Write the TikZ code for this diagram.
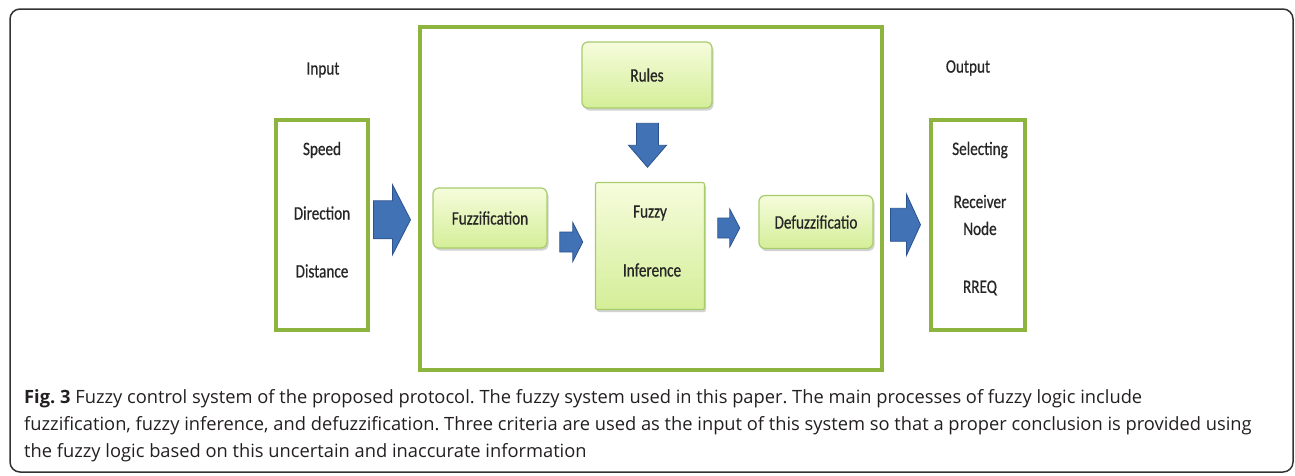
\documentclass[tikz,border=0pt]{standalone}
\usepackage{fontspec}
\setmainfont{Open Sans}
\newfontfamily\diafont[FakeStretch=0.8, FakeBold=0.6]{Carlito}
\newfontfamily\capfont{Open Sans}
\usetikzlibrary{positioning,shadows,calc}

\definecolor{framegreen}{RGB}{140,180,62}
\definecolor{boxedge}{RGB}{168,204,108}
\definecolor{boxtop}{RGB}{246,252,220}
\definecolor{boxbottom}{RGB}{212,238,152}
\definecolor{arrowblue}{RGB}{66,114,182}
\definecolor{arrowedge}{RGB}{42,82,142}
\definecolor{captext}{RGB}{35,31,32}

\newcommand{\drawPfeil}[6]{% center, angle, length, shaft, head width, head length
    \begin{scope}[shift={(#1)}, rotate=#2]
        \draw[blockarrow] (-#3/2,-#4/2) -- (#3/2-#6,-#4/2) -- (#3/2-#6,-#5/2) -- (#3/2,0)
            -- (#3/2-#6,#5/2) -- (#3/2-#6,#4/2) -- (-#3/2,#4/2) -- cycle;
    \end{scope}
}

\tikzset{
    greenframe/.style={draw=framegreen, line width=3.5pt, fill=white},
    procbox/.style={draw=boxedge, line width=1.2pt, rounded corners=6pt,
        top color=boxtop, bottom color=boxbottom,
        drop shadow={opacity=0.35, shadow xshift=1.5pt, shadow yshift=-2.5pt}},
    blockarrow/.style={fill=arrowblue, draw=arrowedge, line width=0.8pt, line join=miter},
    lbl/.style={font=\diafont\fontsize{19}{21}\selectfont, text=black!85, align=center},
    caption/.style={anchor=base west, font=\capfont\fontsize{18.3}{21}\selectfont\frenchspacing, text=captext, inner sep=0pt}
}

\begin{document}
\begin{tikzpicture}[x=1pt, y=-1pt]
    \useasboundingbox (0,0) rectangle (1295,475);
    \node[draw=black!80, line width=1.5pt, rounded corners=10pt, minimum width=1283pt,
        minimum height=463pt] (page) at (651.5,240.5) {};

    % input side
    \node[lbl] (inlabel) at (323,70) {Input};
    \node[greenframe, minimum width=92pt, minimum height=210pt] (inbox) at (322,225) {};
    \node[lbl] (speed) at (322,150) {Speed};
    \node[lbl] (direction) at (322,213) {Direction};
    \node[lbl] (distance) at (322,271) {Distance};

    % fuzzy system
    \node[greenframe, minimum width=462pt, minimum height=343pt] (sysbox) at (651,198.5) {};
    \node[procbox, minimum width=130pt, minimum height=66pt] (rules) at (647,75) {};
    \node[lbl] at (rules) {Rules};
    \node[procbox, minimum width=114pt, minimum height=60pt] (fuzz) at (490,218) {};
    \node[lbl] at (fuzz) {Fuzzification};
    \node[procbox, rounded corners=2pt, minimum width=109pt, minimum height=127pt] (infer) at (650,246) {};
    \node[lbl] (fuzzy) at (650,213) {Fuzzy};
    \node[lbl] (inference) at (652,270) {Inference};
    \node[procbox, minimum width=114pt, minimum height=53pt] (defuzz) at (816,222) {};
    \node[lbl] at (defuzz) {Defuzzificatio};

    % output side
    \node[lbl] (outlabel) at (968,68) {Output};
    \node[greenframe, minimum width=94pt, minimum height=210pt] (outbox) at (978,225) {};
    \node[lbl] (selecting) at (980,150) {Selecting};
    \node[lbl] (receiver) at (980,215) {Receiver\\[6pt]Node};
    \node[lbl] (rreq) at (980,288) {RREQ};

    % block arrows
    \drawPfeil{$(inbox.east)!0.5!(sysbox.west)+(-2,8)$}{0}{37}{38}{70}{18}
    \drawPfeil{$(rules.south)!0.5!(infer.north)+(-1,0)$}{-90}{44}{22}{38}{22}
    \drawPfeil{$(fuzz.east)!0.5!(infer.west)+(0,10)$}{0}{23}{20}{39}{10}
    \drawPfeil{$(infer.east)!0.5!(defuzz.west)+(-3,-6)$}{0}{22}{20}{38}{10}
    \drawPfeil{$(sysbox.east)!0.5!(outbox.west)+(-1,13)$}{0}{30}{33}{61}{14}

    % caption
    \node[caption] (cap1) at (24,403) {\textbf{Fig. 3} Fuzzy control system of the proposed protocol. The fuzzy system used in this paper. The main processes of fuzzy logic include};
    \node[caption] (cap2) at (24,430) {fuzzification, fuzzy inference, and defuzzification. Three criteria are used as the input of this system so that a proper conclusion is provided using};
    \node[caption] (cap3) at (24,457) {the fuzzy logic based on this uncertain and inaccurate information};
\end{tikzpicture}
\end{document}
